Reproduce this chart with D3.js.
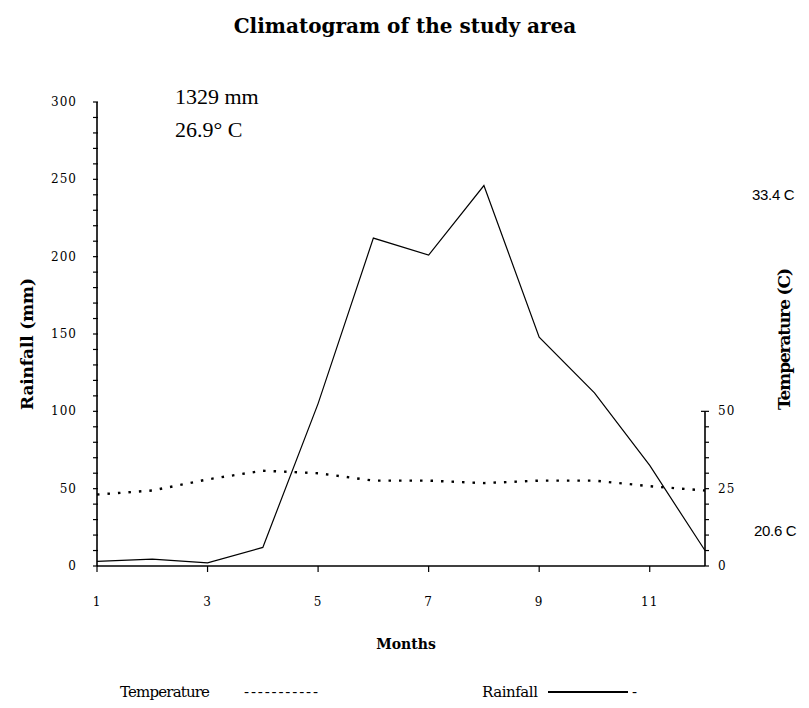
<!DOCTYPE html>
<html>
<head>
<meta charset="utf-8">
<script src="https://cdn.jsdelivr.net/npm/d3@7"></script>
<style>
    body { margin: 0; background: #ffffff; }
    svg { display: block; }
    .tick-label { font-family: "DejaVu Serif", serif; font-size: 12px; letter-spacing: 1px; fill: #000; }
    .axis-title { font-family: "DejaVu Serif", serif; font-size: 17px; font-weight: bold; fill: #000; }
</style>
</head>
<body>
<svg id="chart" width="809" height="708"></svg>
<script>
const months = [1, 2, 3, 4, 5, 6, 7, 8, 9, 10, 11, 12];
const rainfall = [3, 4.5, 2, 12, 105, 212, 201, 246, 148, 112, 65, 10];
const temperature = [23.1, 24.4, 28, 30.8, 30, 27.6, 27.6, 26.8, 27.6, 27.6, 25.8, 24.4];

const monthTicks = [1, 3, 5, 7, 9, 11];
const rainTicks = [0, 50, 100, 150, 200, 250, 300];
const tempTicks = [0, 25, 50];

const box = { left: 97, right: 705, top: 102, bottom: 566 };

const svg = d3.select("#chart");

const x = d3.scaleLinear().domain([1, 12]).range([box.left, box.right]);
const yRain = d3.scaleLinear().domain([0, 300]).range([box.bottom, box.top]);
// temperature 0-50 sits on the same height as rainfall 0-100
const yTemp = d3.scaleLinear().domain([0, 50]).range([box.bottom, yRain(100)]);

// left axis: minor ticks every 10 mm, labels every 50
const leftAxis = svg.append("g").attr("transform", `translate(${box.left},0)`);
leftAxis.append("line")
    .attr("y1", yRain(0)).attr("y2", yRain(300))
    .attr("stroke", "#000").attr("stroke-width", 1.6);
leftAxis.selectAll(".minor")
    .data(d3.range(0, 301, 10))
    .join("line")
    .attr("x1", -4).attr("x2", 1)
    .attr("y1", d => yRain(d)).attr("y2", d => yRain(d))
    .attr("stroke", "#000").attr("stroke-width", 1.2);
leftAxis.selectAll(".tick-label")
    .data(rainTicks)
    .join("text")
    .attr("class", "tick-label")
    .attr("x", -20)
    .attr("y", d => yRain(d) + 4)
    .attr("text-anchor", "end")
    .text(d => d);

// right axis: temperature 0-50, minor ticks every 5
const rightAxis = svg.append("g").attr("transform", `translate(${box.right},0)`);
rightAxis.append("line")
    .attr("y1", yTemp(0)).attr("y2", yTemp(50))
    .attr("stroke", "#000").attr("stroke-width", 1.6);
rightAxis.selectAll(".minor")
    .data(d3.range(0, 51, 5))
    .join("line")
    .attr("x1", d => d === 50 ? -4 : 0).attr("x2", 4)
    .attr("y1", d => yTemp(d)).attr("y2", d => yTemp(d))
    .attr("stroke", "#000").attr("stroke-width", 1.2);
rightAxis.selectAll(".tick-label")
    .data(tempTicks)
    .join("text")
    .attr("class", "tick-label")
    .attr("x", 13)
    .attr("y", d => yTemp(d) + 4)
    .text(d => d);

// bottom axis
const bottomAxis = svg.append("g").attr("transform", `translate(0,${box.bottom})`);
bottomAxis.append("line")
    .attr("x1", x(1)).attr("x2", x(12))
    .attr("stroke", "#000").attr("stroke-width", 1.6);
bottomAxis.selectAll(".minor")
    .data(monthTicks)
    .join("line")
    .attr("x1", d => x(d)).attr("x2", d => x(d))
    .attr("y1", 0).attr("y2", 6)
    .attr("stroke", "#000").attr("stroke-width", 1.2);
bottomAxis.selectAll(".tick-label")
    .data(monthTicks)
    .join("text")
    .attr("class", "tick-label")
    .attr("x", d => x(d))
    .attr("y", 40)
    .attr("text-anchor", "middle")
    .text(d => d);

// data lines
const rainLine = d3.line().x((d, i) => x(months[i])).y(d => yRain(d));
const tempLine = d3.line().x((d, i) => x(months[i])).y(d => yTemp(d));

svg.append("path")
    .datum(temperature)
    .attr("d", tempLine)
    .attr("fill", "none")
    .attr("stroke", "#000")
    .attr("stroke-width", 2.4)
    .attr("stroke-dasharray", "2.5,8");

svg.append("path")
    .datum(rainfall)
    .attr("d", rainLine)
    .attr("fill", "none")
    .attr("stroke", "#000")
    .attr("stroke-width", 1.2);

// titles (style so the size wins over the class rule)
svg.append("text")
    .attr("class", "axis-title")
    .attr("x", 405).attr("y", 33)
    .style("font-size", "20px")
    .attr("text-anchor", "middle")
    .text("Climatogram of the study area");

svg.append("text")
    .attr("class", "axis-title")
    .attr("x", 406).attr("y", 649)
    .style("font-size", "14px")
    .attr("text-anchor", "middle")
    .text("Months");

svg.append("text")
    .attr("class", "axis-title")
    .attr("transform", "translate(33,410) rotate(-90)")
    .attr("textLength", 132)
    .text("Rainfall (mm)");

svg.append("text")
    .attr("class", "axis-title")
    .attr("transform", "translate(790,410) rotate(-90)")
    .attr("textLength", 142)
    .text("Temperature (C)");

// annotations
const note = svg.append("g")
    .attr("font-family", "Liberation Serif, serif")
    .attr("font-size", 22);
note.append("text").attr("x", 175).attr("y", 104).text("1329 mm");
note.append("text").attr("x", 175).attr("y", 137).text("26.9° C");

const extremes = svg.append("g")
    .attr("font-family", "Liberation Sans, sans-serif")
    .attr("font-size", 15)
    .attr("letter-spacing", -0.3);
extremes.append("text").attr("x", 752).attr("y", 200).text("33.4 C");
extremes.append("text").attr("x", 754).attr("y", 536).text("20.6 C");

// legend
const legend = svg.append("g")
    .attr("font-family", "DejaVu Serif, serif")
    .attr("font-size", 15);
legend.append("text").attr("x", 120).attr("y", 697).attr("textLength", 90).text("Temperature");
legend.append("text").attr("x", 244).attr("y", 697).attr("textLength", 74).text("-----------");
legend.append("text").attr("x", 482).attr("y", 697).attr("textLength", 56).text("Rainfall");
legend.append("line")
    .attr("x1", 548).attr("x2", 628)
    .attr("y1", 692).attr("y2", 692)
    .attr("stroke", "#000").attr("stroke-width", 2);
legend.append("text").attr("x", 632).attr("y", 697).text("-");
</script>
</body>
</html>
